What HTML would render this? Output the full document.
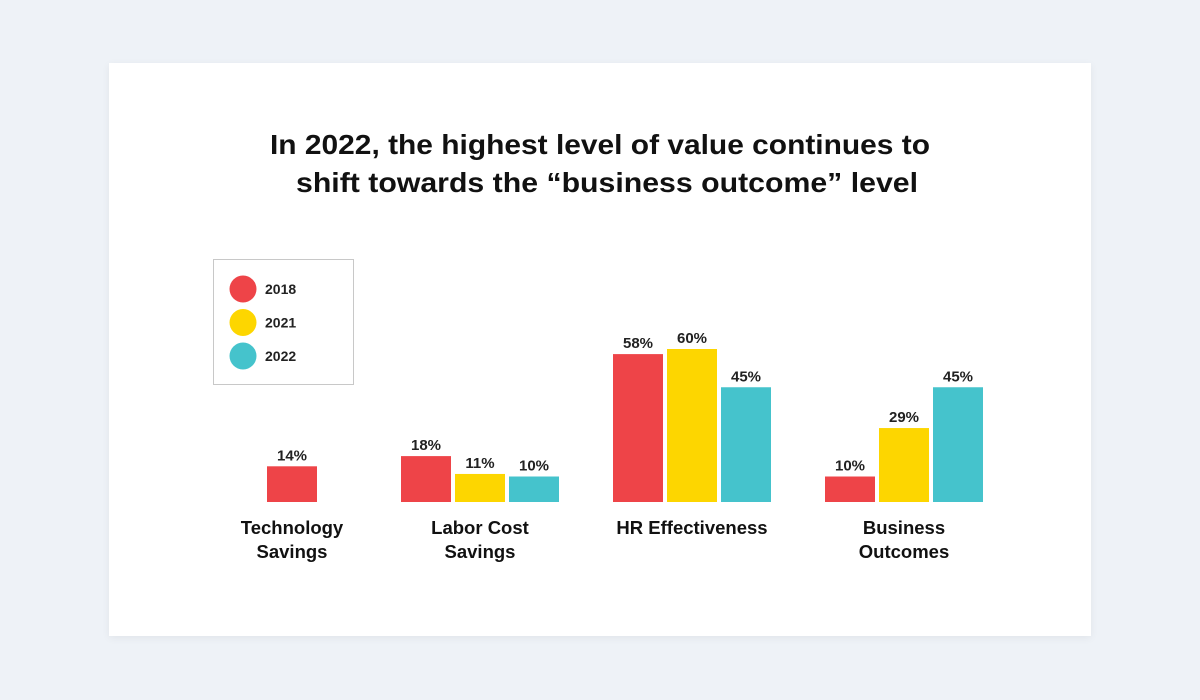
<!DOCTYPE html>
<html><head><meta charset="utf-8"><style>
body{margin:0;width:1200px;height:700px;background:#eef2f7;font-family:"Liberation Sans",sans-serif;overflow:hidden}
#card{position:absolute;left:109px;top:63px;width:982px;height:573px;background:#fff;box-shadow:0 2px 8px rgba(0,0,0,0.06)}
</style></head><body>
<div id="card"></div>
<svg id="chart" width="1200" height="700" style="position:absolute;left:0;top:0">
<text x="270" y="154" textLength="660" lengthAdjust="spacingAndGlyphs" font-size="28" font-weight="bold" fill="#111">In 2022, the highest level of value continues to</text>
<text x="296" y="192" textLength="622" lengthAdjust="spacingAndGlyphs" font-size="28" font-weight="bold" fill="#111">shift towards the “business outcome” level</text>
<g>
<rect x="213.5" y="259.5" width="140" height="125" fill="#fff" stroke="#c8c8c8"/>
</g>
</svg>
<script>
const categories=[["Technology","Savings"],["Labor Cost","Savings"],["HR Effectiveness"],["Business","Outcomes"]];
const years=["2018","2021","2022"];
const s2018=[14,18,58,10];
const s2021=[null,11,60,29];
const s2022=[null,10,45,45];
const colors=["#ee4448","#fdd600","#45c3cc"];
const series=[s2018,s2021,s2022];
const NS="http://www.w3.org/2000/svg";
const svg=document.getElementById('chart');
const baseY=502, pxPer=2.55, barW=50, gap=4;
function y(v){return baseY-v*pxPer;}
function groupCenter(i){return i===0?292:480+(i-1)*212;}
function mk(tag,attrs){const e=document.createElementNS(NS,tag);for(const k in attrs)e.setAttribute(k,attrs[k]);svg.appendChild(e);return e;}
categories.forEach((cat,i)=>{
  const idx=[];series.forEach((s,j)=>{if(s[i]!=null)idx.push(j);});
  const total=idx.length*barW+(idx.length-1)*gap;
  let x0=groupCenter(i)-total/2;
  idx.forEach((j,k)=>{
    const v=series[j][i];const x=x0+k*(barW+gap);
    const r=mk('rect',{x:x,y:y(v),width:barW,height:baseY-y(v),fill:colors[j]});
    
    
    const t=mk('text',{x:x+barW/2,y:y(v)-6,'text-anchor':'middle','font-size':15,'font-weight':'bold',fill:'#222'});
    t.textContent=v+'%';
    
    
  });
  cat.forEach((line,l)=>{
    const t=mk('text',{x:groupCenter(i),y:534+l*24,'text-anchor':'middle','font-size':18.5,'font-weight':'bold',fill:'#111'});
    t.textContent=line;
    
    
  });
});
years.forEach((yr,j)=>{
  const cy=289+j*33.5;
  const c=mk('circle',{cx:243,cy:cy,r:13.5,fill:colors[j]});
  
  
  const t=mk('text',{x:265,y:cy+5,'font-size':14,'font-weight':'bold',fill:'#222'});
  t.textContent=yr;
  
  
});
</script>
</body></html>
